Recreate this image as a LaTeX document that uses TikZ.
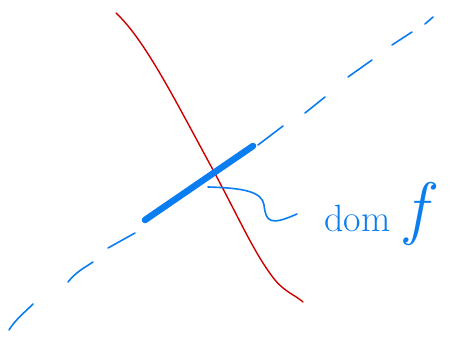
\documentclass[tikz,border=0pt]{standalone}
\usepackage{tikz}
\usetikzlibrary{arrows.meta, positioning}

\definecolor{penblue}{RGB}{10,125,240}
\definecolor{penred}{RGB}{205,0,0}

\begin{document}
\begin{tikzpicture}[
    x=1pt, y=-1pt,
    pen/.style={
        draw=penblue,
        line width=1.6pt,
        line cap=round
    },
    dashpart/.style={
        pen
    },
    domstroke/.style={
        draw=penblue,
        line width=6.5pt,
        line cap=round
    },
    graphline/.style={
        draw=penred,
        line width=1.4pt,
        line cap=round
    },
    domlabel/.style={
        text=penblue,
        font=\fontsize{38}{40}\selectfont,
        inner sep=0pt,
        anchor=base west
    }
]
\useasboundingbox (0,0) rectangle (450,339);

% Graph der Funktion
\draw[graphline] (116,13) .. controls (145,40) and (175,100) .. (212,168)
    .. controls (240,220) and (255,255) .. (275,280)
    .. controls (285,292) and (295,295) .. (303,302);

% gestrichelte Gerade
\draw[dashpart] (9,330) .. controls (15,320) and (25,312) .. (33,304);
\draw[dashpart] (68,282) .. controls (76,272) and (84,268) .. (93,262);
\draw[dashpart] (108,248) -- (135,233);
\draw[dashpart] (258,145) -- (283,126);
\draw[dashpart] (305,113) -- (325,97);
\draw[dashpart] (348,77) -- (372,60);
\draw[dashpart] (392,45) -- (412,32);
\draw[dashpart] (425,24) -- (433,17);

% Definitionsbereich
\draw[domstroke] (145,220) -- (253,146);

% Beschriftung
\coordinate (tick) at (208,187);
\node[domlabel] (dom) at (324,232) {dom\hspace{0.4em}{\fontsize{70}{70}\selectfont\itshape f}};
\draw[pen] (tick) .. controls (245,188) and (262,192) .. (264,205)
    .. controls (266,222) and (270,226) .. (297,214);

\end{tikzpicture}
\end{document}
